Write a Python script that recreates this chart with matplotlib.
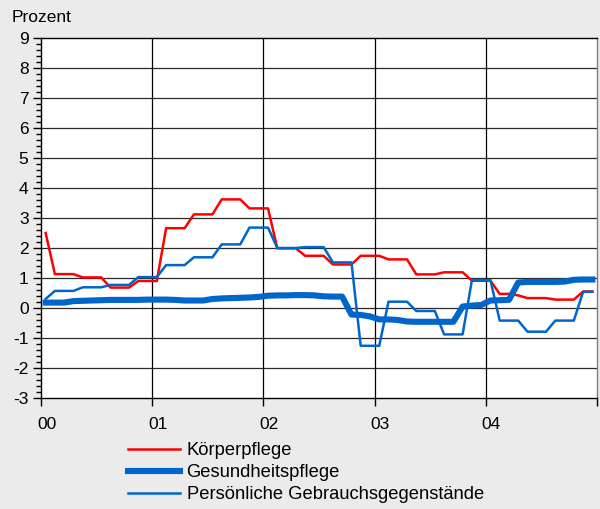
import matplotlib
matplotlib.use("Agg")
import matplotlib.pyplot as plt
import numpy as np

plt.rcParams['font.family'] = ['Liberation Sans', 'DejaVu Sans']
plt.rcParams['axes.unicode_minus'] = False

year_labels = ["00", "01", "02", "03", "04"]
series_names = ["Körperpflege", "Gesundheitspflege", "Persönliche Gebrauchsgegenstände"]

koerperpflege = [2.5, 1.13, 1.13, 1.13, 1.02, 1.02, 1.02, 0.68, 0.68, 0.68,
                 0.9, 0.9, 0.9, 2.66, 2.66, 2.66, 3.12, 3.12, 3.12, 3.62,
                 3.62, 3.62, 3.32, 3.32, 3.32, 1.99, 1.99, 1.99, 1.74, 1.74,
                 1.74, 1.45, 1.45, 1.45, 1.74, 1.74, 1.74, 1.62, 1.62, 1.62,
                 1.12, 1.12, 1.12, 1.19, 1.19, 1.19, 0.91, 0.91, 0.91, 0.47,
                 0.47, 0.42, 0.33, 0.33, 0.33, 0.28, 0.28, 0.28, 0.55, 0.55]

gesundheitspflege = [0.18, 0.18, 0.18, 0.23, 0.24, 0.25, 0.26, 0.27, 0.27, 0.27,
                     0.27, 0.28, 0.28, 0.28, 0.27, 0.25, 0.25, 0.25, 0.3, 0.32,
                     0.33, 0.34, 0.35, 0.37, 0.41, 0.42, 0.42, 0.43, 0.43, 0.42,
                     0.39, 0.38, 0.38, -0.22, -0.23, -0.28, -0.38, -0.38, -0.4, -0.45,
                     -0.46, -0.46, -0.46, -0.46, -0.46, 0.05, 0.08, 0.1, 0.25, 0.26,
                     0.27, 0.85, 0.87, 0.87, 0.87, 0.87, 0.88, 0.94, 0.95, 0.95]

gebrauchsgegenstaende = [0.3, 0.57, 0.57, 0.57, 0.69, 0.69, 0.69, 0.77, 0.77, 0.77,
                         1.03, 1.03, 1.03, 1.43, 1.43, 1.43, 1.69, 1.69, 1.69, 2.12,
                         2.12, 2.12, 2.68, 2.68, 2.68, 2.0, 2.0, 2.0, 2.03, 2.03,
                         2.03, 1.52, 1.52, 1.52, -1.26, -1.26, -1.26, 0.21, 0.21, 0.21,
                         -0.1, -0.1, -0.1, -0.88, -0.88, -0.88, 0.93, 0.93, 0.93, -0.42,
                         -0.42, -0.42, -0.79, -0.79, -0.79, -0.42, -0.42, -0.42, 0.54, 0.54]

months = np.arange(len(koerperpflege)) + 0.5

fig = plt.figure(figsize=(6.0, 5.09), dpi=100, facecolor='#ebebeb')
ax = fig.add_axes([41/600, 1-398/509, (597-41)/600, (398-38)/509])
ax.set_facecolor('white')

ax.set_xlim(0, 60)
ax.set_ylim(-3, 9)

# grid
for yv in range(-2, 9):
    ax.axhline(yv, color='#2a2a2a', lw=0.9, zorder=1)
for xv in range(12, 60, 12):
    ax.axvline(xv, color='black', lw=0.9, zorder=1)

l1, = ax.plot(months, koerperpflege, color='#ff0000', lw=1.8, zorder=3)
l2, = ax.plot(months, gesundheitspflege, color='#0066cc', lw=4.4, zorder=4)
l3, = ax.plot(months, gebrauchsgegenstaende, color='#0066cc', lw=1.8, zorder=5)

ax.set_yticks(range(-3, 10))
ax.set_yticks(np.arange(-3, 9.01, 0.2), minor=True)
ax.tick_params(axis='y', which='major', length=6, width=1, labelsize=12.5, pad=3, direction='out')
ax.tick_params(axis='y', which='minor', length=3.5, width=1, direction='out')

# x: unlabeled year ticks, labels slightly right of each tick
ax.xaxis.set_major_locator(matplotlib.ticker.FixedLocator(range(0, 61, 12)))
ax.xaxis.set_major_formatter(matplotlib.ticker.NullFormatter())
ax.xaxis.set_minor_locator(matplotlib.ticker.FixedLocator([12 * k + 0.6 for k in range(len(year_labels))]))
ax.xaxis.set_minor_formatter(matplotlib.ticker.FixedFormatter(year_labels))
ax.tick_params(axis='x', which='major', length=6, width=1, direction='out')
ax.tick_params(axis='x', which='minor', length=0, labelsize=12.5, pad=14)

for s in ['left', 'bottom', 'top']:
    ax.spines[s].set_color('black')
    ax.spines[s].set_linewidth(1)
ax.spines['right'].set_color('#808080')
ax.spines['right'].set_linewidth(1)

fig.text(12/600, 1-17/509, "Prozent", fontsize=12.5, ha='left', va='center')

fig.legend([l1, l2, l3], series_names, loc='upper left',
           bbox_to_anchor=(128/600, 1-442/509), frameon=False,
           fontsize=13.25, handlelength=2.85, handletextpad=0.33,
           labelspacing=0.28, borderpad=0, borderaxespad=0)

fig.savefig("out.png", dpi=100, facecolor=fig.get_facecolor())
